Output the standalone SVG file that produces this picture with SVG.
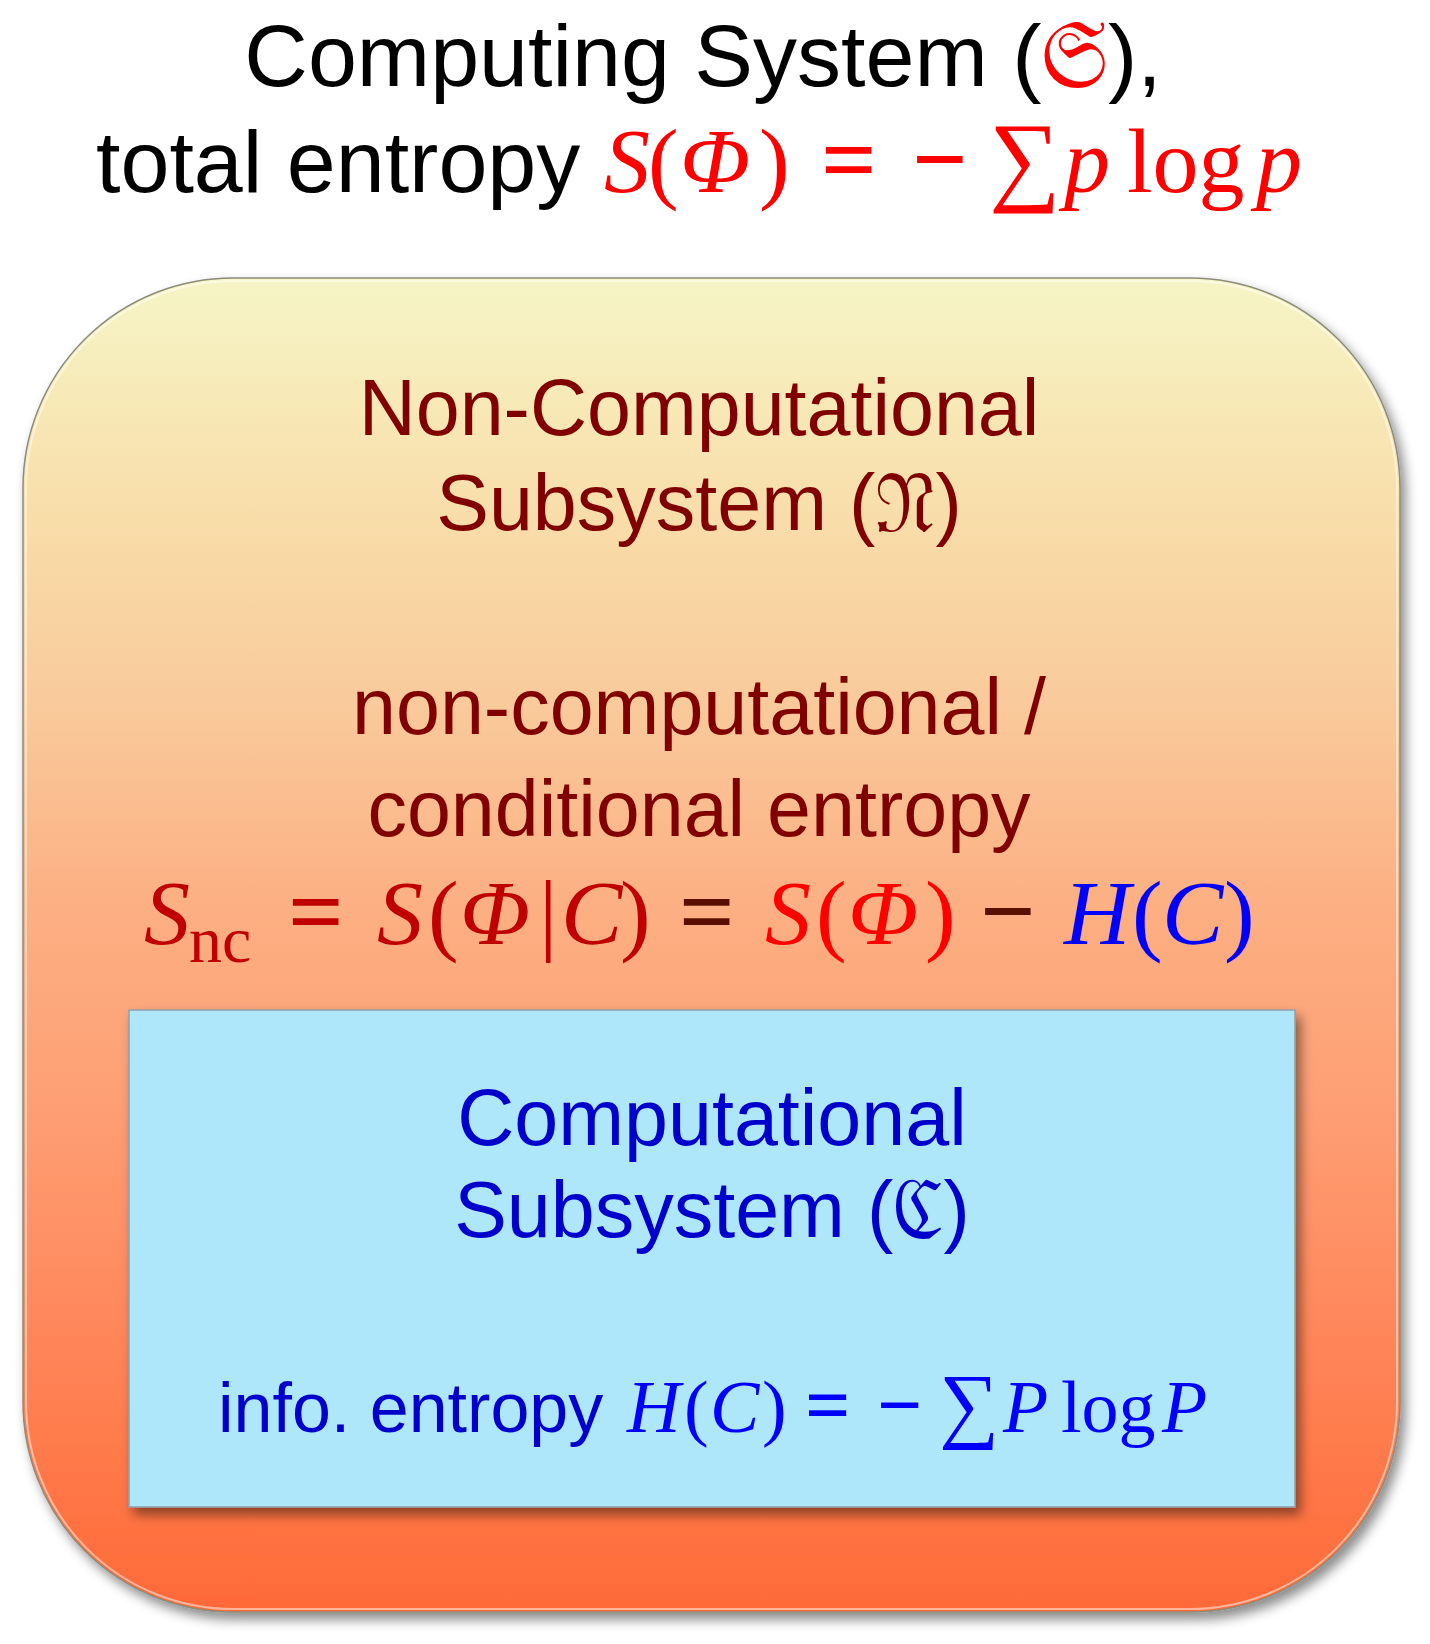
<svg xmlns="http://www.w3.org/2000/svg" width="1430" height="1644" viewBox="0 0 1430 1644">
<defs>
  <linearGradient id="outerGrad" gradientUnits="userSpaceOnUse" x1="0" y1="278" x2="0" y2="1612">
    <stop offset="0" stop-color="#F6F5C6"/>
    <stop offset="0.166" stop-color="#F8DFAB"/>
    <stop offset="0.325" stop-color="#F9C99A"/>
    <stop offset="0.466" stop-color="#FCB083"/>
    <stop offset="0.616" stop-color="#FE9F75"/>
    <stop offset="0.766" stop-color="#FF8A5E"/>
    <stop offset="0.916" stop-color="#FF7545"/>
    <stop offset="1" stop-color="#FF6A38"/>
  </linearGradient>
  <filter id="shadow" x="-5%" y="-5%" width="115%" height="115%">
    <feDropShadow dx="5" dy="7" stdDeviation="6" flood-color="#000" flood-opacity="0.45"/>
  </filter>
  <style>
    .sans { font-family: "Liberation Sans", Arial, sans-serif; }
    .math { font-family: "Liberation Serif", "Times New Roman", serif; font-style: italic; }
    .up { font-style: normal; }
    .op { font-style: normal; font-weight: bold; }
    .frak { font-family: "DejaVu Serif", "Noto Sans Math", "Noto Serif", serif; font-style: normal; }
    .dred { fill: #800000; }
    .blue { fill: #0000CC; }
  </style>
</defs>

<g id="title">
  <text class="sans" x="703" y="86" font-size="88" text-anchor="middle" fill="#000">Computing System (<tspan class="frak" fill="#FF0000">𝔖</tspan>),</text>
  <text x="96" y="192" font-size="88" fill="#000"><tspan class="sans">total entropy </tspan><tspan class="math" fill="#FF0000" font-size="92"><tspan x="604">S</tspan><tspan class="up" x="648">(</tspan><tspan x="680">Φ</tspan><tspan class="up" x="759">)</tspan><tspan class="op" x="821" font-size="98">=</tspan><tspan class="op" x="912" font-size="98">−</tspan><tspan class="up" x="989" font-size="100">∑</tspan><tspan x="1064">p</tspan><tspan class="up" x="1127">log</tspan><tspan x="1256">p</tspan></tspan></text>
</g>

<g id="non-computational-subsystem">
  <rect x="23" y="278" width="1377" height="1334" rx="210" ry="210" fill="url(#outerGrad)" stroke="#8C8C7C" stroke-width="1.5" filter="url(#shadow)"/>
  <rect x="26" y="281" width="1371" height="1328" rx="207" ry="207" fill="none" stroke="#FFFFFF" stroke-opacity="0.5" stroke-width="2"/>
  <text class="sans dred" x="699" y="435" font-size="79" text-anchor="middle">Non-Computational</text>
  <text class="sans dred" x="699" y="530" font-size="79" text-anchor="middle">Subsystem (<tspan class="frak">𝔑</tspan>)</text>
  <text class="sans dred" x="699" y="734" font-size="79" text-anchor="middle">non-computational /</text>
  <text class="sans dred" x="699" y="836" font-size="79" text-anchor="middle">conditional entropy</text>
  <text class="math" y="944" font-size="92"><tspan x="144" fill="#C00000">S</tspan><tspan class="up" x="189" dy="18" font-size="66" fill="#C00000">nc</tspan><tspan class="op" x="288" dy="-18" font-size="98" fill="#C00000">=</tspan><tspan x="377" fill="#C00000">S</tspan><tspan class="up" x="428" fill="#C00000">(</tspan><tspan x="460" fill="#C00000">Φ</tspan><tspan class="up" x="539" fill="#C00000">|</tspan><tspan x="561" fill="#C00000">C</tspan><tspan class="up" x="620" fill="#C00000">)</tspan><tspan class="op" x="679" font-size="98" fill="#5A0F00">=</tspan><tspan x="765" fill="#FF0000">S</tspan><tspan class="up" x="816" fill="#FF0000">(</tspan><tspan x="848" fill="#FF0000">Φ</tspan><tspan class="up" x="925" fill="#FF0000">)</tspan><tspan class="op" x="980" font-size="98" fill="#5A0F00">−</tspan><tspan x="1064" fill="#0000FF">H</tspan><tspan class="up" x="1132" fill="#0000FF">(</tspan><tspan x="1162" fill="#0000FF">C</tspan><tspan class="up" x="1224" fill="#0000FF">)</tspan></text>
</g>

<g id="computational-subsystem">
  <rect x="129" y="1010" width="1166" height="497" fill="#AEE6FA" stroke="#8FA0A8" stroke-width="1.5" filter="url(#shadow)"/>
  <text class="sans blue" x="712" y="1145" font-size="79" text-anchor="middle">Computational</text>
  <text class="sans blue" x="712" y="1237" font-size="79" text-anchor="middle">Subsystem (<tspan class="frak">ℭ</tspan>)</text>
  <text y="1432" font-size="70"><tspan class="sans blue" x="218">info. entropy</tspan><tspan class="math" fill="#0000FF" font-size="74"><tspan x="627">H</tspan><tspan class="up" x="684">(</tspan><tspan x="710">C</tspan><tspan class="up" x="762">)</tspan><tspan class="op" x="805" font-size="80">=</tspan><tspan class="op" x="877" font-size="80">−</tspan><tspan class="up" x="939" font-size="84">∑</tspan><tspan x="1003">P</tspan><tspan class="up" x="1061">log</tspan><tspan x="1162">P</tspan></tspan></text>
</g>

<g id="connectors"></g>
</svg>
